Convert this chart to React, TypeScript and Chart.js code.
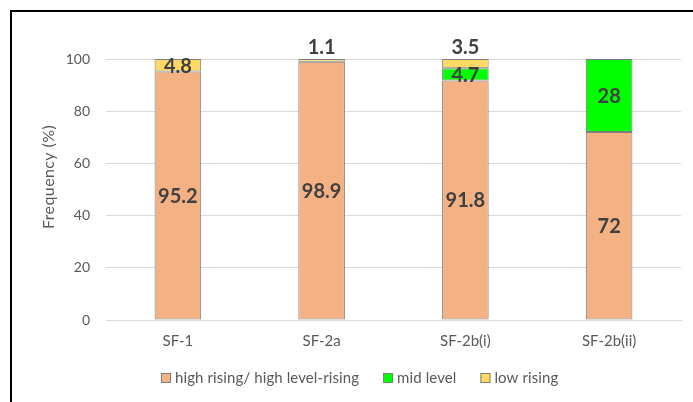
import React, { useEffect, useRef } from "react";
import { Chart, registerables } from "chart.js";

Chart.register(...registerables);

// Categories and stacked series (percent of tokens)
const categories = ["SF-1", "SF-2a", "SF-2b(i)", "SF-2b(ii)"];
const highRising = [95.2, 98.9, 91.8, 72];
const midLevel = [null, null, 4.7, 28];
const lowRising = [4.8, 1.1, 3.5, null];
const seriesNames = ["high rising/ high level-rising", "mid level", "low rising"];
const yTicks = [0, 20, 40, 60, 80, 100];

const COLORS = ["#F4B183", "#00FF00", "#FFD966"];
const BAR_BORDER = "#7F7F7F";
const TEXT = "#595959";
const LABEL = "#404040";
const FONT = "Lato, 'Noto Sans', sans-serif";

// Segments smaller than this carry their value label above the stack
const SMALL_SEGMENT = 4;

const segmentLabels = {
  id: "segmentLabels",
  afterDatasetsDraw(chart: any) {
    const { ctx } = chart;
    ctx.save();
    ctx.font = `bold 20px ${FONT}`;
    ctx.fillStyle = LABEL;
    ctx.textAlign = "center";
    ctx.textBaseline = "middle";
    chart.data.datasets.forEach((ds: any, di: number) => {
      const meta = chart.getDatasetMeta(di);
      meta.data.forEach((bar: any, i: number) => {
        const v = ds.data[i];
        if (v == null) return;
        const { x, y, base } = bar.getProps(["x", "y", "base"], true);
        const ly = v < SMALL_SEGMENT ? y - 11 : (y + base) / 2 + 1;
        ctx.fillText(String(v), x, ly);
      });
    });
    ctx.restore();
  },
};

const axisTitle = {
  id: "axisTitle",
  afterDraw(chart: any) {
    const { ctx } = chart;
    ctx.save();
    ctx.translate(49, 177);
    ctx.rotate(-Math.PI / 2);
    ctx.font = `16px ${FONT}`;
    ctx.letterSpacing = "0.4px";
    ctx.fillStyle = TEXT;
    ctx.textAlign = "center";
    ctx.textBaseline = "middle";
    ctx.fillText("Frequency (%)", 0, 0);
    ctx.restore();
  },
};

const bottomLegend = {
  id: "bottomLegend",
  afterDraw(chart: any) {
    const { ctx } = chart;
    ctx.save();
    ctx.font = `15px ${FONT}`;
    ctx.letterSpacing = "0.1px";
    ctx.textBaseline = "middle";
    ctx.textAlign = "left";
    let x = 161;
    const cy = 378;
    seriesNames.forEach((name, i) => {
      ctx.fillStyle = COLORS[i];
      ctx.fillRect(x, cy - 5, 10, 10);
      ctx.strokeStyle = BAR_BORDER;
      ctx.lineWidth = 1;
      ctx.strokeRect(x + 0.5, cy - 4.5, 9, 9);
      ctx.fillStyle = TEXT;
      ctx.fillText(name, x + 14, cy);
      x += 14 + ctx.measureText(name).width + 24;
    });
    ctx.restore();
  },
};

export default function App() {
  const ref = useRef<HTMLCanvasElement>(null);

  useEffect(() => {
    const canvas = ref.current;
    if (!canvas) return;
    const chart = new Chart(canvas, {
      type: "bar",
      data: {
        labels: categories,
        datasets: [highRising, midLevel, lowRising].map((data, i) => ({
          label: seriesNames[i],
          data,
          backgroundColor: COLORS[i],
          borderColor: BAR_BORDER,
          borderWidth: 1,
          borderSkipped: false,
          barPercentage: 0.324,
          categoryPercentage: 1,
        })),
      },
      options: {
        responsive: false,
        animation: false,
        devicePixelRatio: 1,
        layout: { padding: { left: 0, top: 59, right: 12, bottom: 42 } },
        plugins: {
          legend: { display: false },
          tooltip: { enabled: false },
        },
        scales: {
          x: {
            stacked: true,
            grid: { display: false, drawTicks: false },
            border: { display: true, color: "#D9D9D9" },
            ticks: {
              color: TEXT,
              font: { family: FONT, size: 15 },
              padding: 12,
              maxRotation: 0,
            },
            afterFit(scale: any) {
              scale.height = 40;
            },
          },
          y: {
            stacked: true,
            min: 0,
            max: 100,
            afterBuildTicks(scale: any) {
              scale.ticks = yTicks.map((v) => ({ value: v }));
            },
            grid: { color: "#D9D9D9", lineWidth: 1, drawTicks: false },
            border: { display: false },
            ticks: {
              color: TEXT,
              font: { family: FONT, size: 14 },
              padding: 16,
            },
            afterFit(scale: any) {
              scale.width = 106;
            },
          },
        },
      },
      plugins: [segmentLabels, axisTitle, bottomLegend],
    });
    return () => chart.destroy();
  }, []);

  return (
    <div
      style={{
        position: "fixed",
        left: 0,
        top: 0,
        width: 693,
        height: 402,
        overflow: "hidden",
        background: "#FFFFFF",
      }}
    >
      <canvas
        ref={ref}
        width={693}
        height={402}
        style={{ position: "absolute", left: 0, top: 0, width: 693, height: 402 }}
      />
      <div
        style={{
          position: "absolute",
          left: 10,
          top: 10,
          width: 720,
          height: 420,
          border: "2px solid #000000",
          boxSizing: "border-box",
          pointerEvents: "none",
        }}
      />
    </div>
  );
}
